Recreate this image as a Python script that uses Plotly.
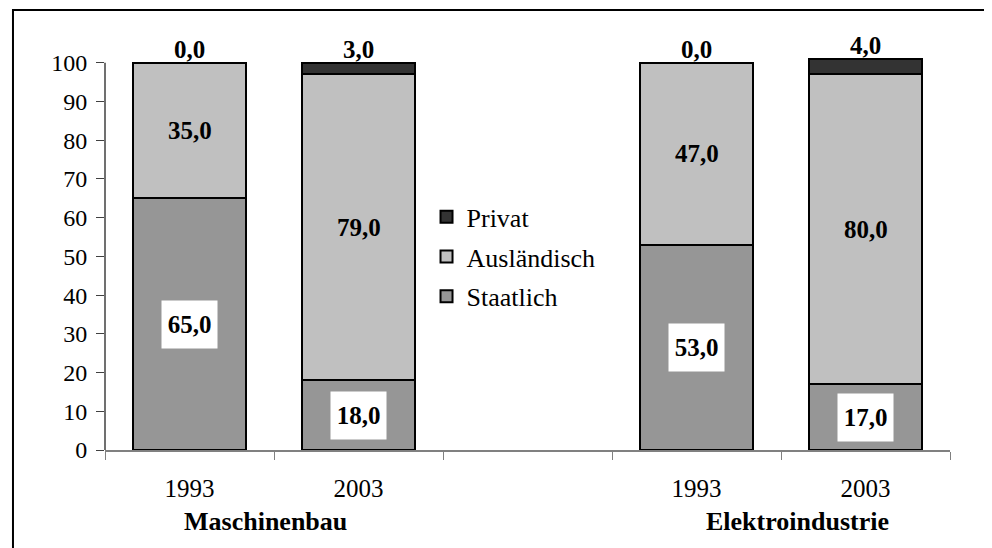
import plotly.graph_objects as go

# ---- data ----
x_keys = ["M1993", "M2003", "gap", "E1993", "E2003"]
years = ["1993", "2003", "", "1993", "2003"]
staatlich = [65.0, 18.0, None, 53.0, 17.0]
auslaendisch = [35.0, 79.0, None, 47.0, 80.0]
privat = [0.0, 3.0, None, 0.0, 4.0]
series_names = ["Staatlich", "Ausländisch", "Privat"]
series_colors = ["#969696", "#C0C0C0", "#333333"]
groups = ["Maschinenbau", "Elektroindustrie"]
group_pos = [0.447, 3.595]
y_ticks = list(range(0, 101, 10))

FONT = "Liberation Serif"


def fmt(v):
    return f"{v:.1f}".replace(".", ",")


fig = go.Figure()
n = len(series_names)
for j, (name, vals, col) in enumerate(zip(series_names, [staatlich, auslaendisch, privat], series_colors)):
    fig.add_trace(go.Bar(
        x=x_keys, y=vals, name=name, legendgroup=name, legendrank=1000 + (n - j),
        marker=dict(color=col, line=dict(color="#000000", width=2)),
        hoverinfo="skip",
    ))

annotations = []
for i, k in enumerate(x_keys):
    s, a, p = staatlich[i], auslaendisch[i], privat[i]
    if s is None:
        continue
    annotations.append(dict(x=k, y=s / 2, text=f"<b>{fmt(s)}</b>", showarrow=False,
                            bgcolor="#FFFFFF", width=53, height=45,
                            font=dict(family=FONT, size=25, color="#000")))
    annotations.append(dict(x=k, y=s + a / 2, text=f"<b>{fmt(a)}</b>", showarrow=False,
                            font=dict(family=FONT, size=25, color="#000")))
    annotations.append(dict(x=k, y=s + a + p, text=f"<b>{fmt(p)}</b>", showarrow=False,
                            yanchor="bottom", yshift=-2,
                            font=dict(family=FONT, size=25, color="#000")))

for g, pos in zip(groups, group_pos):
    annotations.append(dict(x=pos, xref="x", y=-0.182, yref="paper", text=f"<b>{g}</b>",
                            showarrow=False, yanchor="middle",
                            font=dict(family=FONT, size=26, color="#000")))

shapes = [
    # y axis line only from 0 to 100
    dict(type="line", xref="paper", yref="y", x0=0, x1=0, y0=0, y1=100,
         line=dict(color="#404040", width=1.5)),
    # outer chart border (cropped)
    dict(type="rect", xref="paper", yref="paper", x0=-0.1089, x1=1.3, y0=-0.6, y1=1.114,
         line=dict(color="#000000", width=2), fillcolor="rgba(0,0,0,0)", layer="below"),
]

# the page body adds an 8px margin, so the figure is drawn 8px smaller on each side
fig.update_layout(
    width=984, height=540,
    margin=dict(l=97, r=42, t=47, b=98, autoexpand=False),
    paper_bgcolor="#FFFFFF", plot_bgcolor="#FFFFFF",
    barmode="stack", bargap=0.33,
    font=dict(family=FONT, size=25, color="#000"),
    showlegend=True,
    legend=dict(x=0.3805, y=0.650, xanchor="left", yanchor="top",
                traceorder="grouped", font=dict(family=FONT, size=26, color="#000"),
                tracegroupgap=3, bgcolor="rgba(0,0,0,0)"),
    annotations=annotations,
    shapes=shapes,
    xaxis=dict(type="category", categoryorder="array", categoryarray=x_keys,
               tickmode="array", tickvals=x_keys, ticktext=years,
               tickson="boundaries", ticks="outside", ticklen=8, tickcolor="#808080",
               showline=True, linecolor="#808080", linewidth=1.5, showgrid=False,
               ticklabelstandoff=15, tickfont=dict(family=FONT, size=25, color="#000"),
               range=[-0.5, 4.5], fixedrange=True, automargin=False),
    yaxis=dict(range=[0, 102], tickmode="array", tickvals=y_ticks,
               ticks="outside", ticklen=8, tickcolor="#404040", showline=False,
               showgrid=False, zeroline=False, ticklabelstandoff=4,
               tickfont=dict(family=FONT, size=24, color="#000"), fixedrange=True,
               automargin=False),
)

fig.write_html("out.html")
